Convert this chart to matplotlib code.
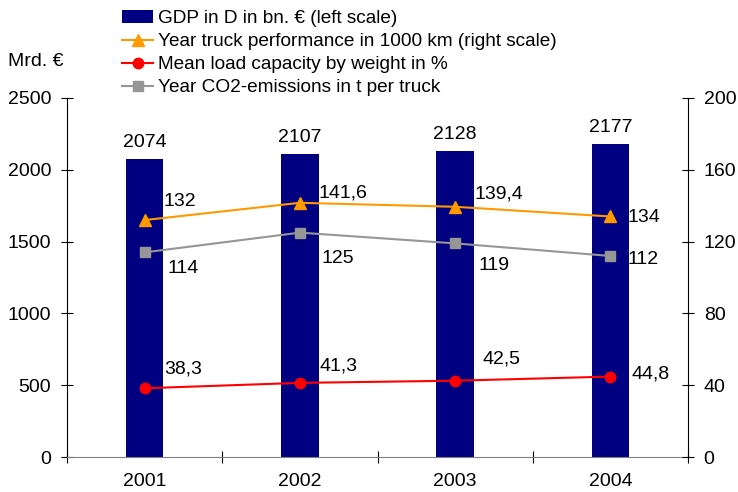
import matplotlib
matplotlib.use("Agg")
import matplotlib.pyplot as plt
import numpy as np

plt.rcParams['font.family'] = ['Liberation Sans', 'DejaVu Sans']

years = ["2001", "2002", "2003", "2004"]
gdp = [2074, 2107, 2128, 2177]
truck_perf = [132, 141.6, 139.4, 134]
load_cap = [38.3, 41.3, 42.5, 44.8]
co2 = [114, 125, 119, 112]

def fmt(v):
    return f"{v:g}".replace(".", ",")

fig = plt.figure(figsize=(7.38, 4.92), dpi=100)
L, R, T, B = 67, 688, 98, 457
ax = fig.add_axes([L/738, 1-B/492, (R-L)/738, (B-T)/492])
ax2 = ax.twinx()

x = np.arange(len(years))
bars = ax.bar(x, gdp, width=0.24, color='#000080', zorder=2, label='GDP in D in bn. € (left scale)')
ax.set_xlim(-0.5, 3.5)
ax.set_ylim(0, 2500)
ax.set_yticks(range(0, 2501, 500))
ax2.set_ylim(0, 200)
ax2.set_yticks(range(0, 201, 40))

fs = 14
for xi, v in zip(x, gdp):
    ax.annotate(str(v), (xi, v), xytext=(0, 8.6), textcoords='offset points',
                ha='center', va='baseline', fontsize=fs)

l1, = ax2.plot(x, truck_perf, color='#FF9900', marker='^', markersize=8, lw=1.5,
               label='Year truck performance in 1000 km (right scale)')
l2, = ax2.plot(x, load_cap, color='#FF0000', marker='o', markersize=7.5, lw=1.5,
               label='Mean load capacity by weight in %')
l3, = ax2.plot(x, co2, color='#969696', marker='s', markersize=7, lw=1.5,
               label='Year CO2-emissions in t per truck')

# data label offsets in points (x: left edge, y: baseline)
perf_off = [(13.7, 10), (13.7, 3.6), (13.7, 5.8), (12.2, -4.3)]
co2_off = [(16.6, -15.1), (15.8, -21.6), (16.6, -19.4), (12.2, -5.8)]
load_off = [(14.4, 10.8), (14.4, 8.6), (20, 12.2), (15, -1.4)]
for series, offs in ((truck_perf, perf_off), (co2, co2_off), (load_cap, load_off)):
    for xi, v, o in zip(x, series, offs):
        ax2.annotate(fmt(v), (xi, v), xytext=o, textcoords='offset points',
                     fontsize=fs, ha='left', va='baseline')

# axes styling
for a in (ax, ax2):
    a.spines['top'].set_visible(False)
ax.spines['bottom'].set_color('#808080')
ax.spines['left'].set_color('black')
ax.spines['right'].set_visible(False)
ax2.spines['right'].set_color('black')
ax2.spines['left'].set_visible(False)
ax2.spines['bottom'].set_visible(False)
ax.tick_params(axis='y', direction='inout', length=8.6, labelsize=fs, pad=7)
ax2.tick_params(axis='y', direction='inout', length=8.6, labelsize=fs, pad=7)
ax.set_xticks([-0.5, 0.5, 1.5, 2.5, 3.5])
ax.set_xticklabels([])
ax.set_xticks(x, minor=True)
ax.set_xticklabels(years, minor=True, fontsize=fs)
ax.tick_params(axis='x', which='major', direction='inout', length=8.6)
ax.tick_params(axis='x', which='minor', length=0, pad=11.5)

fig.text(8.5/738, 1-62/492, 'Mrd. €', fontsize=fs, ha='left', va='center')

handles = [bars, l1, l2, l3]
leg = fig.legend(handles, [h.get_label() for h in handles], loc='upper left',
                 bbox_to_anchor=(122/738, 1-10/492), frameon=False, fontsize=13.7,
                 handlelength=1.65, handletextpad=0.26, labelspacing=0.3,
                 borderpad=0, borderaxespad=0)

fig.savefig('out.png', dpi=100)
